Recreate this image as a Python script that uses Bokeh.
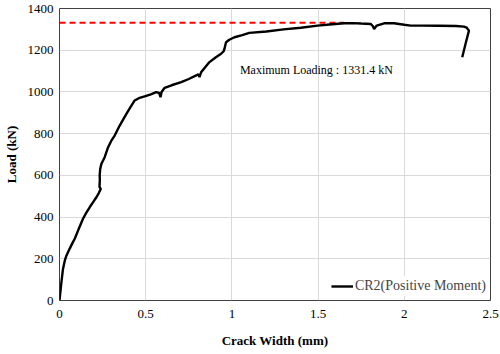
from bokeh.plotting import figure
from bokeh.models import FixedTicker, Legend, LegendItem, Label
from bokeh.embed import file_html
from bokeh.resources import INLINE

# Crack width (mm) vs load (kN)
crack = [0.0, 0.01, 0.02, 0.031, 0.04, 0.06, 0.075, 0.089, 0.11, 0.137, 0.155, 0.175, 0.195, 0.214, 0.228,
         0.239, 0.232, 0.234, 0.233, 0.236, 0.243, 0.252, 0.262, 0.282, 0.30, 0.32, 0.35, 0.388, 0.41,
         0.436, 0.46, 0.494, 0.53, 0.561, 0.578, 0.586, 0.592, 0.61, 0.65, 0.706, 0.75, 0.793, 0.805,
         0.812, 0.822, 0.845, 0.87, 0.905, 0.9375, 0.952, 0.957, 0.962, 0.966, 0.985, 1.015, 1.06, 1.101,
         1.2, 1.3, 1.4, 1.497, 1.55, 1.6, 1.651, 1.7, 1.75, 1.806, 1.818, 1.825, 1.84, 1.883, 1.94,
         2.0, 2.037, 2.1, 2.2, 2.3, 2.346, 2.362, 2.375, 2.355, 2.336]
load = [0, 80, 150, 192, 215, 250, 275, 297, 340, 393, 420, 447, 472, 495, 515,
        535, 545, 580, 600, 630, 655, 670, 687, 735, 765, 791, 840, 895, 925,
        959, 970, 979, 988, 999, 995, 975, 1000, 1020, 1032, 1047, 1062, 1079, 1085,
        1071, 1095, 1118, 1143, 1165, 1183, 1195, 1207, 1225, 1238, 1250, 1262, 1272, 1283,
        1290, 1300, 1308, 1318, 1322, 1326, 1329, 1330, 1328, 1326, 1315, 1302, 1318, 1329, 1329,
        1322, 1318, 1318, 1317, 1316, 1313, 1308, 1294, 1230, 1166]

max_load = 1331.4
max_line_x = [0.0, 1.65]
x_ticks = [0, 0.5, 1, 1.5, 2, 2.5]
x_tick_labels = ["0", "0.5", "1", "1.5", "2", "2.5"]
y_ticks = [0, 200, 400, 600, 800, 1000, 1200, 1400]

FONT = "Liberation Serif"

p = figure(width=500, height=354, x_range=(0, 2.5), y_range=(0, 1400),
           output_backend="svg", toolbar_location=None,
           min_border_left=10, min_border_right=10, min_border_top=8, min_border_bottom=54)

p.xaxis.ticker = FixedTicker(ticks=x_ticks)
p.yaxis.ticker = FixedTicker(ticks=y_ticks)
p.xaxis.major_label_overrides = {t: l for t, l in zip(x_ticks, x_tick_labels)}

for ax in (p.xaxis, p.yaxis):
    ax.major_label_text_font = FONT
    ax.major_label_text_font_size = "13px"
    ax.major_label_text_color = "#000000"
    ax.axis_label_text_font = FONT
    ax.axis_label_text_font_size = "13px"
    ax.axis_label_text_font_style = "bold"
    ax.axis_label_text_color = "#000000"
    ax.major_tick_line_color = None
    ax.minor_tick_line_color = None
    ax.major_tick_out = 0
    ax.major_tick_in = 0
    ax.axis_line_color = None

p.xaxis.axis_label = "Crack Width (mm)"
p.yaxis.axis_label = "Load (kN)"
p.xaxis.major_label_standoff = 9
p.xaxis.axis_label_standoff = 12
p.yaxis.major_label_standoff = 6
p.yaxis.axis_label_standoff = 6

p.xgrid.ticker = FixedTicker(ticks=x_ticks)
p.ygrid.ticker = FixedTicker(ticks=y_ticks)
p.grid.grid_line_color = "#d9d9d9"
p.grid.grid_line_width = 1

p.outline_line_color = "#404040"
p.outline_line_width = 1
p.background_fill_color = "white"
p.border_fill_color = "white"

p.line(max_line_x, [max_load, max_load], line_color="#ff0000", line_width=2, line_dash="6 4")
r = p.line(crack, load, line_color="#000000", line_width=2.4)

p.add_layout(Label(x=1.49, y=1107, text="Maximum Loading : 1331.4 kN", text_font=FONT,
                   text_font_size="12px", text_align="center", text_baseline="middle",
                   text_color="#000000"))

legend = Legend(items=[LegendItem(label="CR2(Positive Moment)", renderers=[r])],
                location="bottom_right", label_text_font=FONT, label_text_font_size="14px",
                border_line_color=None, background_fill_color="white", background_fill_alpha=1,
                glyph_width=22, label_standoff=2, margin=4, padding=8)
p.add_layout(legend)

open("out.html", "w").write(file_html(p, INLINE))
